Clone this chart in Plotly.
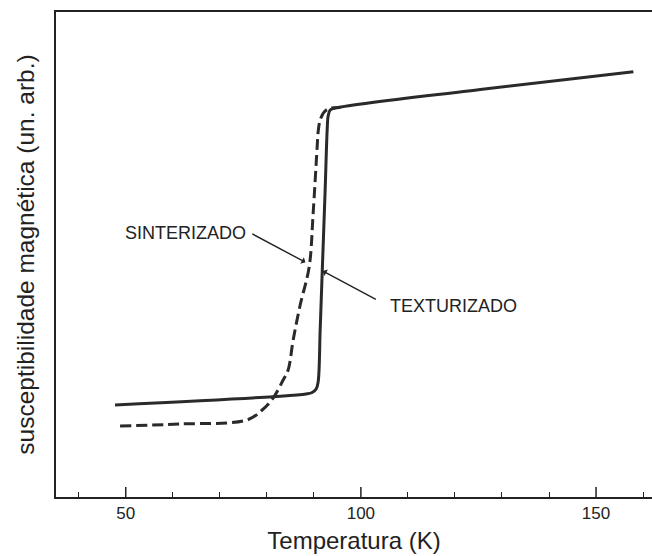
import plotly.graph_objects as go

# Textured sample (solid curve): temperature in K and susceptibility (arb. units)
temp_tex = [47.72, 81.34, 88.36, 89.64, 90.49, 90.91, 91.34, 91.77, 92.40,
            92.83, 93.04, 93.47, 94.32, 125.38, 157.94]
chi_tex = [18.97, 20.68, 21.24, 21.55, 22.27, 23.71, 34.43, 46.19, 63.30,
           75.67, 78.56, 79.79, 80.14, 84.02, 87.69]

# Sintered sample (dashed curve)
temp_sin = [48.79, 61.55, 75.81, 79.0, 81.34, 83.47, 84.53, 85.6, 87.09,
            89.0, 89.85, 90.70, 90.91, 91.34, 92.19, 93.26, 95.6]
chi_sin = [14.64, 15.05, 15.88, 17.94, 20.41, 24.12, 26.19, 32.37, 39.59,
           47.42, 58.56, 72.16, 75.26, 77.73, 79.38, 80.10, 80.31]

# Labelled ticks every 50 K, tick marks every 10 K
x_label_vals = [50, 100, 150]
x_minor_vals = [40, 60, 70, 80, 90, 110, 120, 130, 140, 160]
x_title = "Temperatura (K)"
y_title = "susceptibilidade magnética (un. arb.)"

# Labels and leader lines (text anchor, arrow tail, arrow tip) in data units
labels = ["SINTERIZADO", "TEXTURIZADO"]
label_pos = [(76.0, 54.4, "right"), (105.8, 39.4, "left")]
leader_tail = [(76.6, 54.4), (103.5, 40.6)]
leader_tip = [(88.2, 48.4), (91.9, 46.6)]

ink = "#222222"
font_family = "Liberation Sans, Arial, sans-serif"
x_range = [35.17, 161.9]
y_range = [0, 100]

fig = go.Figure()
fig.add_trace(go.Scatter(x=temp_sin, y=chi_sin, mode="lines",
                         line=dict(color="#2a2a2a", width=3, dash="11px,5px"),
                         line_shape="spline", showlegend=False))
fig.add_trace(go.Scatter(x=temp_tex, y=chi_tex, mode="lines",
                         line=dict(color="#2a2a2a", width=3),
                         line_shape="spline", showlegend=False))

for text, (lx, ly, anchor) in zip(labels, label_pos):
    fig.add_annotation(x=lx, y=ly, text=text, showarrow=False,
                       xanchor=anchor, yanchor="middle",
                       font=dict(family=font_family, size=18, color=ink))

for (tx, ty), (hx, hy) in zip(leader_tail, leader_tip):
    fig.add_annotation(x=hx, y=hy, ax=tx, ay=ty, axref="x", ayref="y",
                       text="", showarrow=True, arrowhead=1, arrowsize=0.9,
                       arrowwidth=1.4, arrowcolor=ink, standoff=0)

# Longer inward tick marks at the labelled temperatures
for v in x_label_vals:
    fig.add_shape(type="line", xref="x", yref="y", ysizemode="pixel",
                  yanchor=y_range[0], x0=v, x1=v, y0=0, y1=10,
                  line=dict(color=ink, width=1.5))

fig.update_layout(
    width=652, height=556,
    margin=dict(l=56, r=0, t=12, b=59),
    paper_bgcolor="white", plot_bgcolor="white",
    font=dict(family=font_family, color=ink),
    xaxis=dict(range=x_range, tickmode="array", tickvals=x_label_vals,
               ticks="",
               minor=dict(tickmode="array", tickvals=x_minor_vals,
                          ticks="inside", ticklen=5, tickwidth=1.4,
                          tickcolor=ink),
               showline=True, linecolor=ink, linewidth=2, mirror=True,
               showgrid=False, zeroline=False,
               tickfont=dict(size=17, color=ink),
               title=dict(text=x_title, font=dict(size=24, color=ink),
                          standoff=10)),
    yaxis=dict(range=y_range, showticklabels=False, ticks="",
               showline=True, linecolor=ink, linewidth=2, mirror=False,
               showgrid=False, zeroline=False,
               title=dict(text=y_title, font=dict(size=24.5, color=ink),
                          standoff=12)),
)

fig.write_html("out.html")
